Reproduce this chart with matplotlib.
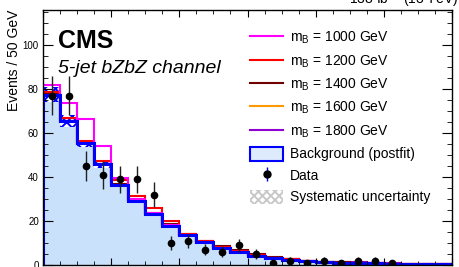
import numpy as np
import matplotlib
matplotlib.use('Agg')
import matplotlib.pyplot as plt
from matplotlib.lines import Line2D
from matplotlib.patches import Patch
from matplotlib.legend_handler import HandlerTuple
from matplotlib.ticker import MultipleLocator

plt.rcParams['font.family'] = ['Liberation Sans', 'DejaVu Sans']
plt.rcParams['hatch.linewidth'] = 1.4

# binning (GeV)
edges = np.arange(800, 2001, 50)

# postfit background and its systematic uncertainty
bkg = [77.5, 65.5, 55.3, 45.8, 36.5, 29.0, 23.2, 17.9, 13.5, 10.3, 7.7, 5.8,
       4.2, 3.0, 2.3, 1.6, 1.2, 1.0, 0.85, 0.7, 0.55, 0.45, 0.35, 0.3]
bkg_unc = [3.5, 2.8, 1.6, 1.5, 1.0, 0.9, 0.8, 0.6, 0.5, 0.4, 0.3, 0.3,
           0.25, 0.2, 0.2, 0.15, 0.15, 0.1, 0.1, 0.1, 0.1, 0.1, 0.1, 0.1]

# signal contributions on top of the background
sig_1000 = [4.5, 8.0, 11.0, 8.5, 3.1, 1.2, 0.5, 0.3, 0.2, 0.15, 0.1, 0.1,
            0.05, 0.05, 0, 0, 0, 0, 0, 0, 0, 0, 0, 0]
sig_1200 = [1.0, 1.5, 1.0, 1.5, 2.0, 2.6, 2.7, 2.0, 0.8, 0.8, 0.7, 0.6,
            0.5, 0.4, 0.3, 0.2, 0.15, 0.1, 0.1, 0.05, 0.05, 0, 0, 0]
sig_1400 = [0.1, 0.2, 0.2, 0.3, 0.3, 0.4, 0.5, 0.6, 0.7, 0.8, 0.8, 0.9,
            0.8, 0.6, 0.5, 0.4, 0.3, 0.2, 0.15, 0.1, 0.1, 0.05, 0.05, 0.05]
sig_1600 = [0.05, 0.05, 0.05, 0.1, 0.1, 0.1, 0.15, 0.2, 0.2, 0.25, 0.3, 0.3,
            0.35, 0.4, 0.4, 0.35, 0.3, 0.25, 0.2, 0.15, 0.1, 0.1, 0.05, 0.05]
sig_1800 = [0, 0, 0.05, 0.05, 0.05, 0.05, 0.1, 0.1, 0.1, 0.1, 0.15, 0.15,
            0.2, 0.2, 0.25, 0.25, 0.3, 0.3, 0.3, 0.25, 0.2, 0.15, 0.1, 0.1]

# observed events
data = [77, 77, 45, 41, 39, 39, 32, 10, 11, 7, 6, 9,
        5, 1, 2, 1, 2, 1, 2, 2, 1, 0, 0, 0]

masses = ['1000', '1200', '1400', '1600', '1800']
signals = [sig_1000, sig_1200, sig_1400, sig_1600, sig_1800]
colors = ['#ff00ff', '#ff0000', '#700000', '#ff9900', '#9000d0']

bkg = np.array(bkg)
bkg_unc = np.array(bkg_unc)
data = np.array(data)
centers = 0.5 * (edges[:-1] + edges[1:])

fig = plt.figure(figsize=(4.59, 2.67), dpi=100)
ax = fig.add_axes([43 / 459, 2 / 267, 409 / 459, 255 / 267])

# background fill
ax.stairs(bkg, edges, fill=True, facecolor='#c9e1fb', edgecolor='none', lw=0)
# systematic band
ax.stairs(bkg + bkg_unc, edges, baseline=bkg - bkg_unc, fill=True,
          facecolor='white', edgecolor='#0000ff', hatch='xxx', lw=0)

# signal + background lines (lowest mass on top)
for m, s, c in reversed(list(zip(masses, signals, colors))):
    ax.stairs(bkg + np.array(s), edges, color=c, lw=1.5)

ax.stairs(bkg, edges, color='#0000ff', lw=2.2)

# data
sel = data > 0
ax.errorbar(centers[sel], data[sel], yerr=np.sqrt(data[sel]), fmt='o',
            color='black', ecolor='#222222', elinewidth=1.0, markersize=4.5,
            capsize=0, zorder=5)

ax.set_xlim(800, 2000)
ax.set_ylim(0, 116)
ax.xaxis.set_major_locator(MultipleLocator(200))
ax.xaxis.set_minor_locator(MultipleLocator(50))
ax.yaxis.set_major_locator(MultipleLocator(20))
ax.yaxis.set_minor_locator(MultipleLocator(5))
ax.tick_params(which='both', direction='in', top=True, right=True)
ax.tick_params(axis='y', which='major', length=7, labelsize=7, pad=3)
ax.tick_params(axis='y', which='minor', length=3.6)
ax.tick_params(axis='x', which='major', length=5, labelbottom=False)
ax.tick_params(axis='x', which='minor', length=3)
for sp in ax.spines.values():
    sp.set_linewidth(1.0)

ax.set_ylabel('Events / 50 GeV', fontsize=10, loc='top')
ax.yaxis.set_label_coords(-0.053, 1.0)

ax.text(0.037, 0.851, 'CMS', transform=ax.transAxes, fontsize=18,
        fontweight='bold', va='baseline', ha='left')
ax.text(0.037, 0.753, '5-jet bZbZ channel', transform=ax.transAxes,
        fontsize=14, style='italic', va='baseline', ha='left')
fig.text(458 / 459, 263 / 267, r'138 fb$^{\mathregular{-1}}$ (13 TeV)',
         fontsize=10, ha='right', va='baseline')

# legend
handles = [Line2D([], [], color=c, lw=1.5) for c in colors]
labels = [r'm$_\mathregular{B}$ = %s GeV' % m for m in masses]
handles.append(Patch(facecolor='#deebfc', edgecolor='#0000ff', lw=1.5))
labels.append('Background (postfit)')
handles.append((Line2D([], [], marker='|', color='#0000ff', markersize=10,
                       ls='none', markeredgewidth=1.0),
                Line2D([], [], marker='o', color='black', markersize=5,
                       ls='none')))
labels.append('Data')
handles.append(Patch(facecolor='white', edgecolor='#c8c8c8', hatch='xxxx',
                     lw=0))
labels.append('Systematic uncertainty')
ax.legend(handles, labels, loc='upper left',
          bbox_to_anchor=((250 - 43) / 409, (265 - 30) / 255),
          frameon=False, fontsize=10, borderpad=0, borderaxespad=0,
          handlelength=2.4, handleheight=1.15, handletextpad=0.5,
          labelspacing=0.5,
          handler_map={tuple: HandlerTuple(ndivide=1, pad=0)})

fig.savefig('out.png', dpi=100)
